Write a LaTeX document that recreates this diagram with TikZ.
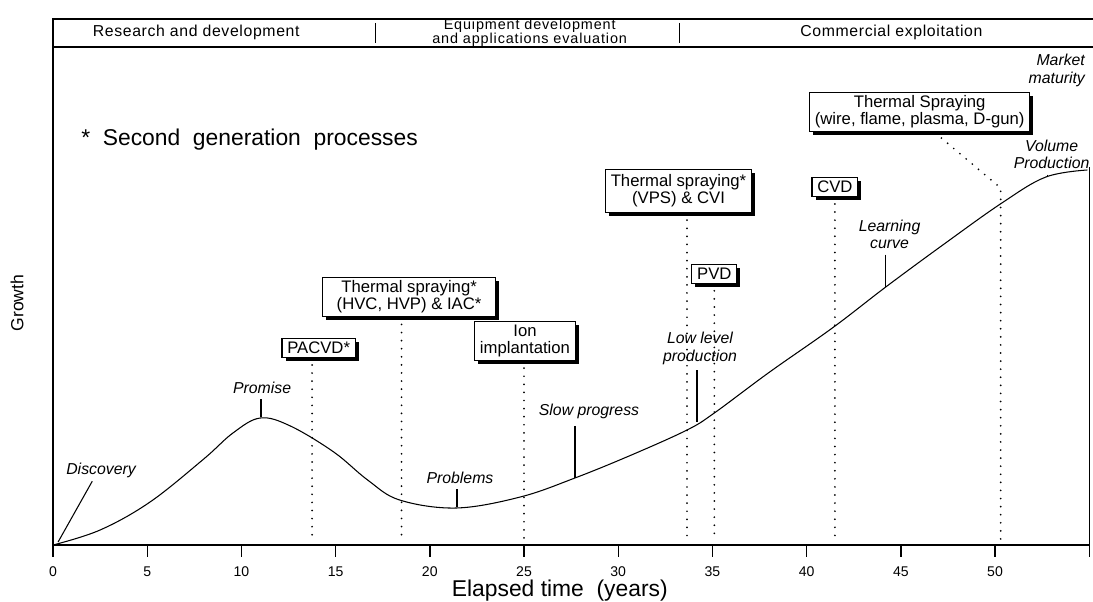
\documentclass[tikz,border=0pt]{standalone}
\usepackage{fontspec}
\setmainfont{Liberation Sans}
\usetikzlibrary{positioning,shadows}

\tikzset{
  procbox/.style={draw, fill=white, line width=0.6pt, align=center, inner xsep=3pt, inner ysep=2pt,
    font=\fontsize{9.5}{9.8}\selectfont,
    drop shadow={shadow xshift=2pt, shadow yshift=-2pt, fill=black, opacity=1}},
  stagelbl/.style={font=\itshape\fontsize{9}{10}\selectfont, align=center, inner sep=1pt},
  phaselbl/.style={font=\fontsize{9}{9}\selectfont\addfontfeatures{LetterSpace=4}, align=center, inner sep=0pt},
  ticklbl/.style={font=\fontsize{8}{9}\selectfont, inner sep=0pt},
  dotline/.style={line width=1.1pt, dash pattern=on 0pt off 4.6pt, line cap=round},
  frameline/.style={line width=0.6pt}
}

\begin{document}
\begin{tikzpicture}[x=0.3768cm,y=1cm]
    \useasboundingbox (-2.813,-1.12) rectangle (55.2,10.9);
    % frame, phases along the top
    \draw[frameline] (55.2,10.52) -- (0,10.52) -- (0,0) -- (55,0) -- (55,7.56);
    \draw[frameline] (0,9.96) -- (55.2,9.96);
    \draw[frameline] (17.14,10.44) -- (17.14,10.04);
    \draw[frameline] (33.23,10.44) -- (33.23,10.04);
    \node[phaselbl] (rnd) at (7.6,10.25) {Research and development};
    \node[phaselbl, font=\fontsize{8.2}{8.2}\selectfont\addfontfeatures{LetterSpace=6}] (equip) at (25.3,10.25)
        {Equipment development\\and applications evaluation};
    \node[phaselbl] (comm) at (44.5,10.25) {Commercial exploitation};

    % axes
    \foreach \x in {0,5,...,50}{
        \draw[line width=0.8pt] (\x,0) -- (\x,-0.24);
        \node[ticklbl] (t\x) at (\x,-0.54) {\x};
    }
    \draw[line width=0.8pt] (55,0) -- (55,-0.24);
    \node[font=\fontsize{13}{15}\selectfont] (xlbl) at (26.9,-0.92) {Elapsed time \ (years)};
    \node[font=\fontsize{10}{12}\selectfont, rotate=90] (ylbl) at (-1.91,4.84) {Growth};
    \node[anchor=west, font=\fontsize{13}{15}\selectfont] (note) at (1.17,8.1) {* \ Second \ generation \ processes};

    % growth curve
    \draw[line width=0.6pt] plot[smooth, tension=0.6] coordinates {
        (0,0) (2.5,0.3) (5.15,0.86) (8,1.72) (9.55,2.24) (11,2.54) (12.6,2.38)
        (14.9,1.86) (16.7,1.3) (18.4,0.9) (21.4,0.74) (24.8,0.96) (27.7,1.34)
        (30.7,1.8) (33.65,2.3) (35.1,2.64) (38,3.45) (41.4,4.35) (44.2,5.16)
        (47.3,6.02) (50.4,6.85) (52.7,7.36) (54.9,7.5)};

    % points on the curve
    \coordinate (cDisc) at (0.27,0.06);
    \coordinate (cPromise) at (11.05,2.56);
    \coordinate (cProb) at (21.45,0.76);
    \coordinate (cSlow) at (27.7,1.34);
    \coordinate (cLow) at (34.18,2.47);
    \coordinate (cLearn) at (44.2,5.16);
    \coordinate (cVol) at (52.8,7.37);

    % stages
    \node[stagelbl] (disc) at (2.55,1.5) {Discovery};
    \node[stagelbl] (promise) at (11.1,3.14) {Promise};
    \node[stagelbl] (prob) at (21.6,1.34) {Problems};
    \node[stagelbl] (slow) at (28.45,2.68) {Slow progress};
    \node[stagelbl] (low) at (34.34,3.93) {Low level\\production};
    \node[stagelbl] (learn) at (44.4,6.21) {Learning\\curve};
    \node[stagelbl] (vol) at (53.0,7.81) {Volume\\Production};
    \node[stagelbl, anchor=east, align=right] (mature) at (54.88,9.49) {Market\\maturity};

    \draw[line width=0.6pt] ([xshift=-5pt,yshift=-1pt]disc.south) -- (cDisc);
    \draw[line width=0.8pt, shorten <=2pt] (promise.south -| cPromise) -- (cPromise);
    \draw[line width=0.8pt, shorten <=2pt] (prob.south -| cProb) -- (cProb);
    \draw[line width=0.8pt, shorten <=3pt] (slow.south -| cSlow) -- (cSlow);
    \draw[line width=0.8pt, shorten <=2pt] (low.south -| cLow) -- (cLow);
    \draw[line width=0.8pt, shorten <=2pt] (learn.south -| cLearn) -- (cLearn);
    \draw[line width=0.6pt, shorten <=2pt] (vol.south -| cVol) -- (cVol);

    % processes
    \node[procbox] (pacvd) at (14.1,3.94) {PACVD*};
    \node[procbox, inner xsep=8pt] (hvc) at (18.9,4.96) {Thermal spraying*\\(HVC, HVP) \& IAC*};
    \node[procbox] (ion) at (25.05,4.08) {Ion\\implantation};
    \node[procbox, inner ysep=3pt] (vps) at (33.2,7.08) {Thermal spraying*\\(VPS) \& CVI};
    \node[procbox] (pvd) at (35.1,5.42) {PVD};
    \node[procbox] (cvd) at (41.5,7.16) {CVD};
    \node[procbox] (tsp) at (46.0,8.66) {Thermal Spraying\\(wire, flame, plasma, D-gun)};

    % dotted drops to the time axis
    \coordinate (a14) at (13.75,0.1);
    \coordinate (a18) at (18.5,0.1);
    \coordinate (a25) at (25.0,0.1);
    \coordinate (a33) at (33.65,0.1);
    \coordinate (a35) at (35.1,0.1);
    \coordinate (a41) at (41.5,0.1);
    \coordinate (a50) at (50.3,0.1);
    \coordinate (bend) at (50.3,7.14);
    \draw[dotline, shorten <=4pt] (pacvd.south -| a14) -- (a14);
    \draw[dotline, shorten <=4pt] (hvc.south -| a18) -- (a18);
    \draw[dotline, shorten <=4pt] (ion.south -| a25) -- (a25);
    \draw[dotline, shorten <=4pt] (vps.south -| a33) -- (a33);
    \draw[dotline, shorten <=4pt] (pvd.south -| a35) -- (a35);
    \draw[dotline, shorten <=4pt] (cvd.south -| a41) -- (a41);
    \draw[dotline, shorten <=5pt] ([xshift=0.3cm]tsp.south) -- (bend) -- (a50);
\end{tikzpicture}
\end{document}
